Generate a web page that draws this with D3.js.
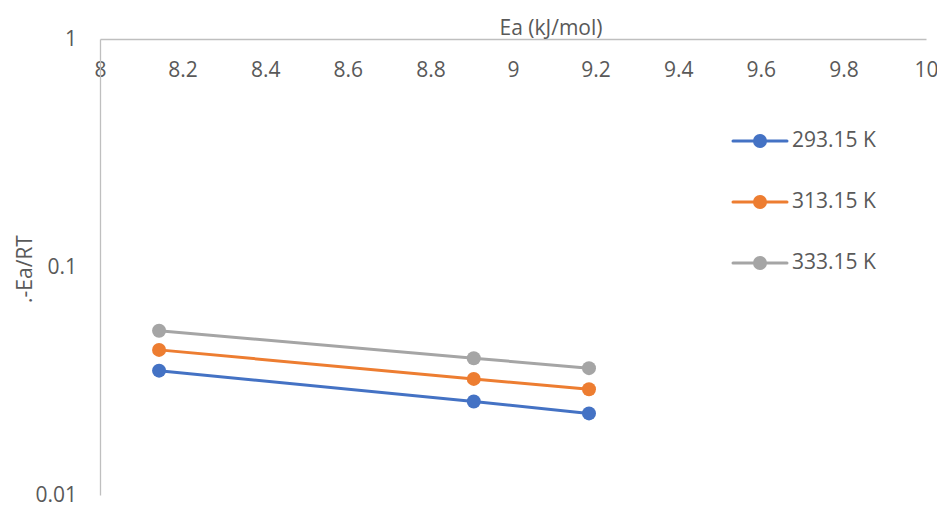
<!DOCTYPE html>
<html>
<head>
<meta charset="utf-8">
<script src="https://cdn.jsdelivr.net/npm/d3@7"></script>
<style>
  html, body { margin: 0; padding: 0; background: #fff; }
  svg { display: block; }
  text { font-family: "Open Sans", "Liberation Sans", sans-serif; fill: #595959; }
</style>
</head>
<body>
<svg id="chart" width="937" height="506"></svg>
<script>
// Activation energy (kJ/mol) on the x axis
const energies = [8.143, 8.905, 9.184];

// One line per temperature
const seriesNames = ["293.15 K", "313.15 K", "333.15 K"];
const values293 = [0.0351, 0.0257, 0.0228];
const values313 = [0.0433, 0.0323, 0.0291];
const values333 = [0.0525, 0.0398, 0.0360];
const seriesColors = ["#4472c4", "#ed7d31", "#a5a5a5"];

const xTicks = [8, 8.2, 8.4, 8.6, 8.8, 9, 9.2, 9.4, 9.6, 9.8, 10];
const yTicks = [0.01, 0.1, 1];

const FONT = "'Open Sans', 'Liberation Sans', sans-serif";
const FS = "21px";

const series = [values293, values313, values333].map((vals, i) => ({
  name: seriesNames[i],
  color: seriesColors[i],
  points: vals.map((v, j) => ({ x: energies[j], y: v }))
}));

const svg = d3.select("#chart");
const x = d3.scaleLinear().domain([8, 10]).range([100, 926]);
const y = d3.scaleLog().domain([0.01, 1]).range([495, 39]);

// x axis runs along the top (at y = 1)
const xAxis = d3.axisBottom(x).tickValues(xTicks).tickSize(0).tickPadding(0)
  .tickFormat(d3.format("~g"));
const gx = svg.append("g").attr("transform", `translate(0,${y(1)})`).call(xAxis);
gx.select(".domain").attr("stroke", "#bfbfbf").attr("stroke-width", 1.3);
gx.selectAll("text").attr("y", 38).attr("dy", "0").style("font-size", FS)
  .attr("fill", "#595959").style("font-family", FONT);

// y axis on the left, log scale
const yAxis = d3.axisLeft(y).tickValues(yTicks).tickSize(0).tickPadding(23)
  .tickFormat(d3.format("~g"));
const gy = svg.append("g").attr("transform", `translate(${x(8)},0)`).call(yAxis);
gy.select(".domain").attr("stroke", "#bfbfbf").attr("stroke-width", 1.3);
gy.selectAll("text").style("font-size", FS).attr("fill", "#595959")
  .style("font-family", FONT);

// axis titles
svg.append("text").attr("x", 551).attr("y", 35).attr("text-anchor", "middle")
  .style("font-size", FS).text("Ea (kJ/mol)");
svg.append("text").attr("transform", "translate(32,269) rotate(-90)")
  .attr("text-anchor", "middle").style("font-size", FS).text(".-Ea/RT");

// lines and markers
const line = d3.line().x(d => x(d.x)).y(d => y(d.y));
const gs = svg.append("g").selectAll("g").data(series).join("g");
gs.append("path").attr("d", d => line(d.points)).attr("fill", "none")
  .attr("stroke", d => d.color).attr("stroke-width", 3).attr("stroke-linecap", "round");
gs.selectAll("circle").data(d => d.points.map(p => ({ ...p, color: d.color })))
  .join("circle").attr("cx", d => x(d.x)).attr("cy", d => y(d.y)).attr("r", 7)
  .attr("fill", d => d.color);

// legend
const lg = svg.append("g").selectAll("g").data(series).join("g")
  .attr("transform", (d, i) => `translate(733,${141 + i * 61})`);
lg.append("line").attr("x1", 0).attr("x2", 54).attr("y1", 0).attr("y2", 0)
  .attr("stroke", d => d.color).attr("stroke-width", 3).attr("stroke-linecap", "round");
lg.append("circle").attr("cx", 27).attr("r", 7).attr("fill", d => d.color);
lg.append("text").attr("x", 59).attr("dy", "0.3em").style("font-size", FS)
  .text(d => d.name);
</script>
</body>
</html>
